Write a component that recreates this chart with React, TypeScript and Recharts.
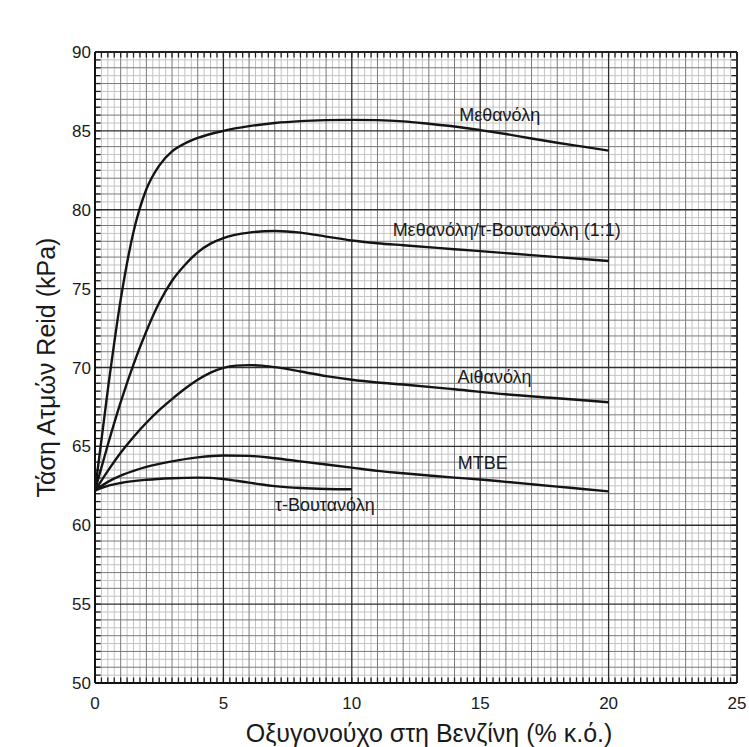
import React from 'react';
import { LineChart, Line, XAxis, YAxis, ReferenceLine, ReferenceDot } from 'recharts';

// ---- Data ----
const methanolX = [0, 0.5, 1, 1.5, 2, 2.5, 3, 3.5, 4, 5, 6, 7, 8, 9, 10, 11, 12, 13, 14, 15, 16, 17, 18, 19, 20];
const methanolY = [62.2, 68.6, 74.3, 78.6, 81.3, 82.8, 83.7, 84.2, 84.55, 85.0, 85.3, 85.5, 85.62, 85.68, 85.7, 85.68, 85.6, 85.45, 85.28, 85.05, 84.8, 84.52, 84.25, 84.0, 83.75];

const mixX = [0, 0.5, 1, 1.5, 2, 2.5, 3, 3.5, 4, 4.5, 5, 6, 7, 8, 9, 10, 11, 12, 14, 16, 18, 20];
const mixY = [62.2, 65.1, 67.8, 70.2, 72.3, 74.1, 75.5, 76.5, 77.3, 77.85, 78.2, 78.55, 78.65, 78.55, 78.3, 78.05, 77.88, 77.75, 77.5, 77.25, 77.0, 76.75];

const ethanolX = [0, 0.5, 1, 1.5, 2, 2.5, 3, 3.5, 4, 4.5, 5, 5.5, 6, 6.5, 7, 8, 9, 10, 11, 12, 14, 16, 18, 20];
const ethanolY = [62.2, 63.45, 64.6, 65.6, 66.5, 67.3, 68.0, 68.65, 69.22, 69.68, 69.98, 70.12, 70.15, 70.12, 70.02, 69.75, 69.45, 69.22, 69.05, 68.92, 68.62, 68.3, 68.05, 67.8];

const mtbeX = [0, 0.5, 1, 1.5, 2, 3, 4, 5, 6, 7, 8, 9, 10, 11, 12, 13, 14, 15, 16, 17, 18, 19, 20];
const mtbeY = [62.2, 62.75, 63.15, 63.45, 63.7, 64.05, 64.3, 64.42, 64.4, 64.25, 64.05, 63.85, 63.65, 63.45, 63.3, 63.15, 63.02, 62.9, 62.75, 62.6, 62.45, 62.3, 62.15];

const tbaX = [0, 0.5, 1, 2, 3, 4, 4.5, 5, 5.5, 6, 6.5, 7, 8, 9, 10];
const tbaY = [62.2, 62.5, 62.68, 62.88, 62.98, 63.02, 63.0, 62.93, 62.82, 62.7, 62.58, 62.48, 62.36, 62.3, 62.28];

const seriesNames = ['Μεθανόλη', 'Μεθανόλη/τ-Βουτανόλη (1:1)', 'Αιθανόλη', 'MTBE', 'τ-Βουτανόλη'];
const labelX = [15.76, 16.03, 15.56, 15.1, 8.95];
const labelY = [86.0, 78.72, 69.4, 63.95, 61.3];

const xTicks = [0, 5, 10, 15, 20, 25];
const yTicks = [50, 55, 60, 65, 70, 75, 80, 85, 90];

const xTitle = 'Οξυγονούχο στη Βενζίνη (% κ.ό.)';
const yTitle = 'Τάση Ατμών Reid (kPa)';

// ---- helpers ----
const zip = (xs: number[], ys: number[]) => xs.map((x, i) => ({ x, y: ys[i] }));
const range = (a: number, b: number, s: number) => {
  const out: number[] = [];
  for (let i = 0; a + i * s <= b + 1e-9; i++) out.push(+(a + i * s).toFixed(4));
  return out;
};

const seriesData = [
  zip(methanolX, methanolY),
  zip(mixX, mixY),
  zip(ethanolX, ethanolY),
  zip(mtbeX, mtbeY),
  zip(tbaX, tbaY),
];

const isMult = (v: number, m: number) => Math.abs(v / m - Math.round(v / m)) < 1e-6;
const xFine = range(0, 25, 0.25);
const yFine = range(50, 90, 0.5);
const xFineOnly = xFine.filter((v) => !isMult(v, 1));
const yFineOnly = yFine.filter((v) => !isMult(v, 1));
const xMed = range(0, 25, 1).filter((v) => !isMult(v, 5));
const yMed = range(50, 90, 1).filter((v) => !isMult(v, 5));
const xMajor = range(5, 25, 5);
const yMajor = range(55, 90, 5);

const FONT = 'Arial, "Liberation Sans", Helvetica, sans-serif';

export default function App() {
  return (
    <div style={{ position: 'fixed', left: 0, top: 0, width: 749, height: 747, background: '#fff' }}>
      <LineChart
        width={749}
        height={747}
        margin={{ top: 52, right: 12, bottom: 34, left: 35 }}
      >
        <XAxis
          type="number"
          dataKey="x"
          domain={[0, 25]}
          ticks={xTicks}
          allowDataOverflow
          height={30}
          tickLine={false}
          tickSize={0}
          tickMargin={14}
          axisLine={{ stroke: '#111', strokeWidth: 2 }}
          tick={{ fill: '#1a1a1a', fontSize: 17, fontFamily: FONT }}
          label={{
            content: (p: any) => {
              const vb = p.viewBox || { x: 95, y: 683, width: 642, height: 30 };
              return (
                <text
                  x={vb.x + vb.width / 2 + 13}
                  y={vb.y + 50}
                  textAnchor="middle"
                  dominantBaseline="central"
                  fontSize={25}
                  fontFamily={FONT}
                  fill="#1a1a1a"
                >
                  {xTitle}
                </text>
              );
            },
          }}
        />
        <YAxis
          type="number"
          domain={[50, 90]}
          ticks={yTicks}
          allowDataOverflow
          width={60}
          tickLine={false}
          tickSize={0}
          tickMargin={4}
          axisLine={{ stroke: '#111', strokeWidth: 2 }}
          tick={{ fill: '#1a1a1a', fontSize: 17, fontFamily: FONT }}
          label={{
            content: (p: any) => {
              const vb = p.viewBox || { x: 35, y: 52, width: 60, height: 631 };
              const cx = vb.x + 11;
              const cy = vb.y + vb.height / 2;
              return (
                <text
                  x={cx}
                  y={cy}
                  transform={`rotate(-90 ${cx} ${cy})`}
                  textAnchor="middle"
                  dominantBaseline="central"
                  fontSize={25}
                  fontFamily={FONT}
                  fill="#1a1a1a"
                >
                  {yTitle}
                </text>
              );
            },
          }}
        />
        {/* graph-paper grid */}
        {xFineOnly.map((v) => (
          <ReferenceLine key={'xf' + v} x={v} stroke="#c4c4c4" strokeWidth={1} />
        ))}
        {yFineOnly.map((v) => (
          <ReferenceLine key={'yf' + v} y={v} stroke="#c4c4c4" strokeWidth={1} />
        ))}
        {xMed.map((v) => (
          <ReferenceLine key={'xm' + v} x={v} stroke="#7a7a7a" strokeWidth={1} />
        ))}
        {yMed.map((v) => (
          <ReferenceLine key={'ym' + v} y={v} stroke="#7a7a7a" strokeWidth={1} />
        ))}
        {xMajor.map((v) => (
          <ReferenceLine key={'xM' + v} x={v} stroke="#2e2e2e" strokeWidth={1.3} />
        ))}
        {yMajor.map((v) => (
          <ReferenceLine key={'yM' + v} y={v} stroke="#2e2e2e" strokeWidth={1.3} />
        ))}
        {/* frame tick combs */}
        {xFine.map((v) => (
          <ReferenceLine key={'bt' + v} segment={[{ x: v, y: 50 }, { x: v, y: 50.35 }]} stroke="#222" strokeWidth={1.3} />
        ))}
        {xFine.map((v) => (
          <ReferenceLine key={'tt' + v} segment={[{ x: v, y: 90 }, { x: v, y: 89.65 }]} stroke="#222" strokeWidth={1.3} />
        ))}
        {yFine.map((v) => (
          <ReferenceLine key={'lt' + v} segment={[{ x: 0, y: v }, { x: 0.22, y: v }]} stroke="#222" strokeWidth={1.3} />
        ))}
        {yFine.map((v) => (
          <ReferenceLine key={'rt' + v} segment={[{ x: 25, y: v }, { x: 24.78, y: v }]} stroke="#222" strokeWidth={1.3} />
        ))}
        <ReferenceLine x={25} stroke="#222" strokeWidth={1.8} />
        <ReferenceLine y={90} stroke="#222" strokeWidth={1.8} />
        {seriesData.map((d, i) => (
          <Line
            key={seriesNames[i]}
            data={d}
            dataKey="y"
            type="monotone"
            stroke="#141414"
            strokeWidth={2.4}
            dot={false}
            activeDot={false}
            isAnimationActive={false}
          />
        ))}
        {seriesNames.map((n, i) => (
          <ReferenceDot
            key={'lbl' + i}
            x={labelX[i]}
            y={labelY[i]}
            r={0}
            fill="none"
            stroke="none"
            label={{ value: n, position: 'center', fontSize: 18, fontFamily: FONT, fill: '#1a1a1a' }}
          />
        ))}
      </LineChart>
    </div>
  );
}
